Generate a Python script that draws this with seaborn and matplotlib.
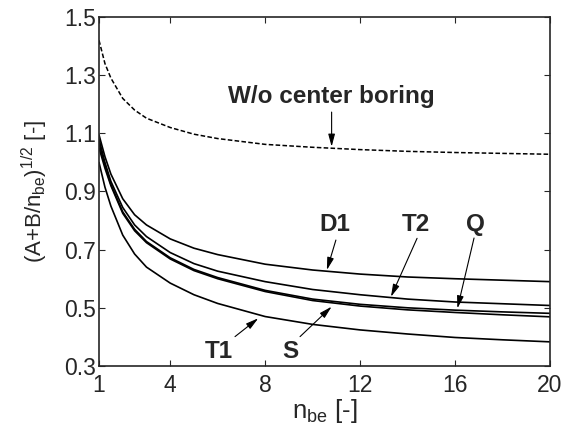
import numpy as np
import pandas as pd
import seaborn as sns
import matplotlib
matplotlib.use("Agg")
import matplotlib.pyplot as plt

# values
n_be = [1, 1.25, 1.5, 2, 2.5, 3, 4, 5, 6, 8, 10, 12, 14, 16, 18, 20]
wo_center = [1.42, 1.34, 1.29, 1.22, 1.18, 1.152, 1.12, 1.097, 1.082, 1.062, 1.052, 1.044, 1.038, 1.034, 1.031, 1.028]
d1 = [1.095, 1.02, 0.96, 0.875, 0.82, 0.785, 0.737, 0.705, 0.683, 0.650, 0.630, 0.616, 0.606, 0.600, 0.595, 0.590]
t2 = [1.08, 1.0, 0.935, 0.845, 0.785, 0.745, 0.690, 0.652, 0.626, 0.590, 0.563, 0.545, 0.530, 0.520, 0.514, 0.508]
q = [1.065, 0.99, 0.925, 0.83, 0.77, 0.728, 0.672, 0.632, 0.604, 0.560, 0.530, 0.512, 0.500, 0.492, 0.486, 0.481]
s = [1.05, 0.98, 0.92, 0.825, 0.765, 0.724, 0.668, 0.628, 0.600, 0.556, 0.525, 0.506, 0.493, 0.484, 0.476, 0.469]
t1 = [1.0, 0.915, 0.85, 0.75, 0.685, 0.64, 0.585, 0.545, 0.515, 0.470, 0.443, 0.424, 0.410, 0.398, 0.390, 0.383]

x_ticks = [1, 4, 8, 12, 16, 20]
y_ticks = [0.3, 0.5, 0.7, 0.9, 1.1, 1.3, 1.5]

# label text, label position, arrow start, arrow tip
labels = [
    ('W/o center boring', (10.8, 1.225), (10.8, 1.173), (10.8, 1.054)),
    ('D1', (10.94, 0.785), (10.98, 0.733), (10.6, 0.630)),
    ('T2', (14.37, 0.785), (14.4, 0.739), (13.3, 0.538)),
    ('Q', (16.88, 0.785), (16.8, 0.740), (16.1, 0.498)),
    ('S', (9.05, 0.349), (9.47, 0.401), (10.8, 0.504)),
    ('T1', (6.03, 0.349), (6.73, 0.401), (7.71, 0.464)),
]

sns.set_style("ticks")
plt.rcParams['font.family'] = ['Liberation Sans', 'DejaVu Sans']
plt.rcParams['mathtext.default'] = 'regular'

fig = plt.figure(figsize=(5.68, 4.28), dpi=100)
ax = fig.add_axes([0.1743, 0.1449, 0.794, 0.8154])

sns.lineplot(x=n_be, y=wo_center, ax=ax, color='k', lw=1.1, linestyle=(0, (3, 1.5)))
for vals in [d1, t2, q, s, t1]:
    sns.lineplot(x=n_be, y=vals, ax=ax, color='k', lw=1.2)

ax.set_xlim(1, 20)
ax.set_ylim(0.3, 1.5)
ax.set_xticks(x_ticks)
ax.set_yticks(y_ticks)
ax.set_yticklabels([f"{v:.1f}" for v in y_ticks])
ax.tick_params(direction='in', top=True, right=True, length=4, width=0.8,
               labelsize=16.5, pad=2)
ax.tick_params(axis='x', pad=6)
for sp in ax.spines.values():
    sp.set_linewidth(1.2)

ax.set_xlabel('n$_{be}$ [-]', fontsize=18.5, labelpad=0)
ax.set_ylabel('(A+B/n$_{be}$)$^{1/2}$ [-]', fontsize=16, labelpad=10)

arrow = dict(arrowstyle='-|>,head_length=0.75,head_width=0.2', lw=0.8,
             color='k', shrinkA=0, shrinkB=0, mutation_scale=10)
for txt, pos, start, tip in labels:
    ax.text(pos[0], pos[1], txt, fontsize=17.5, fontweight='bold',
            ha='center', va='center')
    ax.annotate('', xy=tip, xytext=start, arrowprops=arrow)

fig.savefig("out.png", dpi=100)
